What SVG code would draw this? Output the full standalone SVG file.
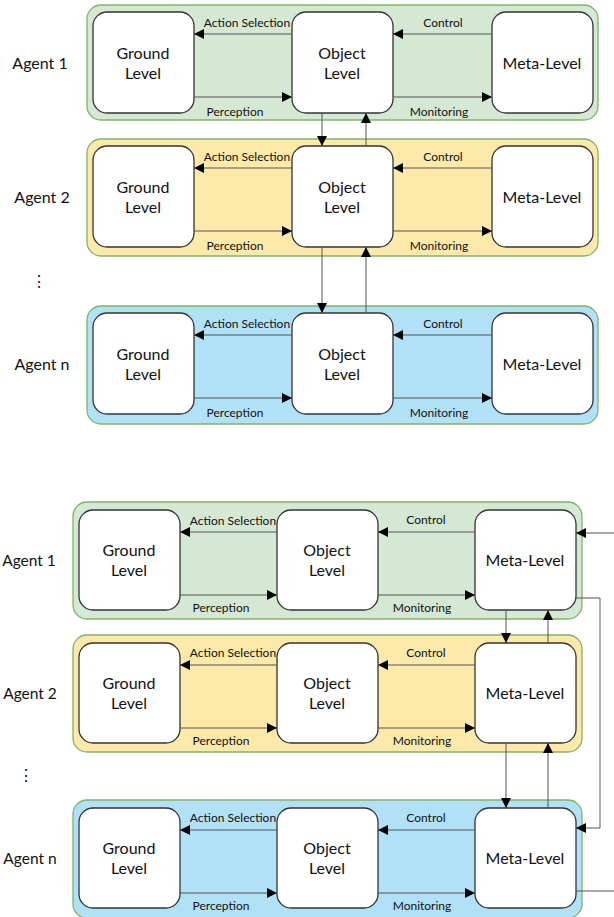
<svg xmlns="http://www.w3.org/2000/svg" width="614" height="917" viewBox="0 0 614 917">
<defs>
<marker id="ah" viewBox="0 0 10 10" refX="10" refY="5" markerWidth="10" markerHeight="10" markerUnits="userSpaceOnUse" orient="auto">
<path d="M0,0 L10,5 L0,10 z" fill="#000"/>
</marker>
<style>
.cg{fill:#d5e8d4;stroke:#82b366;stroke-width:1.3}
.cy{fill:#fde9a9;stroke:#82b366;stroke-width:1.3}
.cb{fill:#b1e1f6;stroke:#82b366;stroke-width:1.3}
.bx{fill:#fff;stroke:#333;stroke-width:1.3}
.ln{fill:none;stroke:#555;stroke-width:1}
.ar{fill:none;stroke:#555;stroke-width:1;marker-end:url(#ah)}
text{font-family:Lato,"Open Sans","Liberation Sans",sans-serif;fill:#111}
.bt{font-size:16px;text-anchor:middle}
.lb{font-size:12px;text-anchor:middle}
.ag{font-size:16px;text-anchor:middle}
.ag2{font-size:15.5px;text-anchor:middle}
</style>
</defs>
<rect width="614" height="917" fill="#fff"/>

<!-- TOP DIAGRAM -->
<g id="top-agent1">
<rect class="cg" x="87" y="5" width="511" height="115" rx="14"/>
<text class="ag" x="40" y="69">Agent 1</text>
</g>
<g id="top-agent2">
<rect class="cy" x="87" y="139" width="511" height="117" rx="14"/>
<text class="ag" x="42" y="203">Agent 2</text>
</g>
<text class="ag" x="39" y="287">⋮</text>
<g id="top-agentn">
<rect class="cb" x="87" y="306" width="511" height="118" rx="14"/>
<text class="ag" x="42" y="370">Agent n</text>
</g>

<g id="t1-ground"><rect class="bx" x="93" y="12" width="101" height="101" rx="14"/><text class="bt" x="143" y="59">Ground</text><text class="bt" x="143" y="79">Level</text></g>
<g id="t1-object"><rect class="bx" x="292" y="12" width="101" height="101" rx="14"/><text class="bt" x="342" y="59">Object</text><text class="bt" x="342" y="79">Level</text></g>
<g id="t1-meta"><rect class="bx" x="492" y="12" width="101" height="101" rx="14"/><text class="bt" x="542" y="69">Meta-Level</text></g>

<g id="t2-ground"><rect class="bx" x="93" y="146" width="101" height="101" rx="14"/><text class="bt" x="143" y="193">Ground</text><text class="bt" x="143" y="213">Level</text></g>
<g id="t2-object"><rect class="bx" x="292" y="146" width="101" height="101" rx="14"/><text class="bt" x="342" y="193">Object</text><text class="bt" x="342" y="213">Level</text></g>
<g id="t2-meta"><rect class="bx" x="492" y="146" width="101" height="101" rx="14"/><text class="bt" x="542" y="203">Meta-Level</text></g>

<g id="tn-ground"><rect class="bx" x="93" y="313" width="101" height="101" rx="14"/><text class="bt" x="143" y="360">Ground</text><text class="bt" x="143" y="380">Level</text></g>
<g id="tn-object"><rect class="bx" x="292" y="313" width="101" height="101" rx="14"/><text class="bt" x="342" y="360">Object</text><text class="bt" x="342" y="380">Level</text></g>
<g id="tn-meta"><rect class="bx" x="492" y="313" width="101" height="101" rx="14"/><text class="bt" x="542" y="370">Meta-Level</text></g>

<!-- BOTTOM DIAGRAM -->
<g id="bot-agent1">
<rect class="cg" x="73" y="502" width="509" height="117" rx="14"/>
<text class="ag2" x="29" y="566">Agent 1</text>
</g>
<g id="bot-agent2">
<rect class="cy" x="73" y="635" width="509" height="117" rx="14"/>
<text class="ag2" x="30" y="699">Agent 2</text>
</g>
<text class="ag" x="26" y="781">⋮</text>
<g id="bot-agentn">
<rect class="cb" x="73" y="800" width="509" height="118" rx="14"/>
<text class="ag2" x="30" y="864">Agent n</text>
</g>

<g id="b1-ground"><rect class="bx" x="79" y="510" width="101" height="100" rx="14"/><text class="bt" x="129" y="556">Ground</text><text class="bt" x="129" y="576">Level</text></g>
<g id="b1-object"><rect class="bx" x="277" y="510" width="101" height="100" rx="14"/><text class="bt" x="327" y="556">Object</text><text class="bt" x="327" y="576">Level</text></g>
<g id="b1-meta"><rect class="bx" x="475" y="510" width="101" height="100" rx="14"/><text class="bt" x="525" y="566">Meta-Level</text></g>

<g id="b2-ground"><rect class="bx" x="79" y="643" width="101" height="100" rx="14"/><text class="bt" x="129" y="689">Ground</text><text class="bt" x="129" y="709">Level</text></g>
<g id="b2-object"><rect class="bx" x="277" y="643" width="101" height="100" rx="14"/><text class="bt" x="327" y="689">Object</text><text class="bt" x="327" y="709">Level</text></g>
<g id="b2-meta"><rect class="bx" x="475" y="643" width="101" height="100" rx="14"/><text class="bt" x="525" y="699">Meta-Level</text></g>

<g id="bn-ground"><rect class="bx" x="79" y="808" width="101" height="100" rx="14"/><text class="bt" x="129" y="854">Ground</text><text class="bt" x="129" y="874">Level</text></g>
<g id="bn-object"><rect class="bx" x="277" y="808" width="101" height="100" rx="14"/><text class="bt" x="327" y="854">Object</text><text class="bt" x="327" y="874">Level</text></g>
<g id="bn-meta"><rect class="bx" x="475" y="808" width="101" height="100" rx="14"/><text class="bt" x="525" y="864">Meta-Level</text></g>

<g id="connectors">
<line class="ar" x1="292" y1="34" x2="194" y2="34"/>
<line class="ar" x1="194" y1="97" x2="292" y2="97"/>
<line class="ar" x1="492" y1="34" x2="393" y2="34"/>
<line class="ar" x1="393" y1="97" x2="492" y2="97"/>
<line class="ar" x1="292" y1="168" x2="194" y2="168"/>
<line class="ar" x1="194" y1="231" x2="292" y2="231"/>
<line class="ar" x1="492" y1="168" x2="393" y2="168"/>
<line class="ar" x1="393" y1="231" x2="492" y2="231"/>
<line class="ar" x1="292" y1="335" x2="194" y2="335"/>
<line class="ar" x1="194" y1="398" x2="292" y2="398"/>
<line class="ar" x1="492" y1="335" x2="393" y2="335"/>
<line class="ar" x1="393" y1="398" x2="492" y2="398"/>
<line class="ar" x1="322" y1="113" x2="322" y2="146"/>
<line class="ar" x1="366" y1="146" x2="366" y2="113"/>
<line class="ar" x1="322" y1="247" x2="322" y2="313"/>
<line class="ar" x1="366" y1="313" x2="366" y2="247"/>

<line class="ar" x1="277" y1="532" x2="180" y2="532"/>
<line class="ar" x1="180" y1="595" x2="277" y2="595"/>
<line class="ar" x1="475" y1="532" x2="378" y2="532"/>
<line class="ar" x1="378" y1="595" x2="475" y2="595"/>
<line class="ar" x1="277" y1="665" x2="180" y2="665"/>
<line class="ar" x1="180" y1="728" x2="277" y2="728"/>
<line class="ar" x1="475" y1="665" x2="378" y2="665"/>
<line class="ar" x1="378" y1="728" x2="475" y2="728"/>
<line class="ar" x1="277" y1="830" x2="180" y2="830"/>
<line class="ar" x1="180" y1="893" x2="277" y2="893"/>
<line class="ar" x1="475" y1="830" x2="378" y2="830"/>
<line class="ar" x1="378" y1="893" x2="475" y2="893"/>
<line class="ar" x1="506" y1="610" x2="506" y2="643"/>
<line class="ar" x1="548" y1="643" x2="548" y2="610"/>
<line class="ar" x1="506" y1="743" x2="506" y2="808"/>
<line class="ar" x1="548" y1="808" x2="548" y2="743"/>
<line class="ar" x1="614" y1="533" x2="576" y2="533"/>
<polyline class="ar" points="576,598 600,598 600,828 576,828"/>
<line class="ln" x1="576" y1="891" x2="614" y2="891"/>
</g>

<g id="labels">
<text class="lb" x="247" y="27">Action Selection</text>
<text class="lb" x="235" y="116">Perception</text>
<text class="lb" x="443" y="27">Control</text>
<text class="lb" x="439" y="116">Monitoring</text>

<text class="lb" x="247" y="161">Action Selection</text>
<text class="lb" x="235" y="250">Perception</text>
<text class="lb" x="443" y="161">Control</text>
<text class="lb" x="439" y="250">Monitoring</text>

<text class="lb" x="247" y="328">Action Selection</text>
<text class="lb" x="235" y="417">Perception</text>
<text class="lb" x="443" y="328">Control</text>
<text class="lb" x="439" y="417">Monitoring</text>

<text class="lb" x="233" y="525">Action Selection</text>
<text class="lb" x="221" y="612">Perception</text>
<text class="lb" x="426" y="524">Control</text>
<text class="lb" x="422" y="612">Monitoring</text>

<text class="lb" x="233" y="657">Action Selection</text>
<text class="lb" x="221" y="745">Perception</text>
<text class="lb" x="426" y="657">Control</text>
<text class="lb" x="422" y="745">Monitoring</text>

<text class="lb" x="233" y="822">Action Selection</text>
<text class="lb" x="221" y="910">Perception</text>
<text class="lb" x="426" y="822">Control</text>
<text class="lb" x="422" y="910">Monitoring</text>
</g>
</svg>
